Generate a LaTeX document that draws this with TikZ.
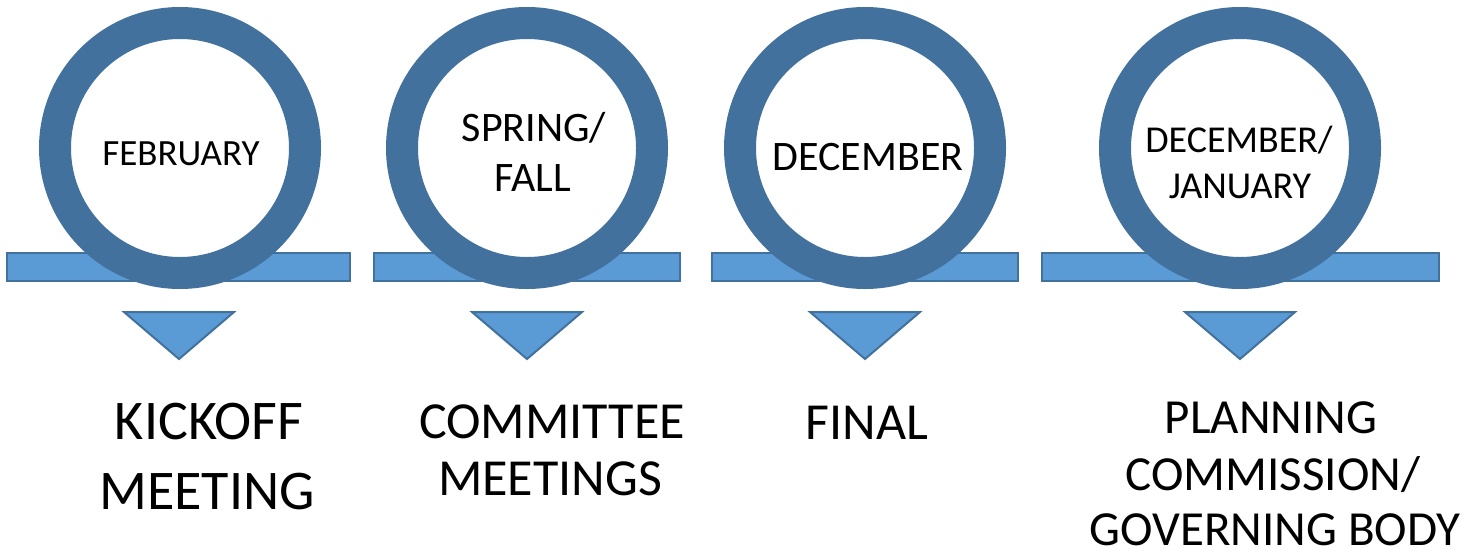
\documentclass[tikz,border=0pt]{standalone}
\usepackage{fontspec}
\setmainfont{Carlito}
\definecolor{ringblue}{HTML}{41719C}
\definecolor{barblue}{HTML}{5B9BD5}
\begin{document}
\begin{tikzpicture}[x=1pt,y=-1pt,
  bar/.style={draw=ringblue,fill=barblue,line width=2pt,rectangle,minimum height=28pt,inner sep=0pt},
  ring/.style={draw=ringblue,fill=white,line width=32pt,circle,minimum size=250pt,inner sep=0pt},
  marker/.style={draw=ringblue,fill=barblue,line width=2pt,line join=miter},
  txt/.style={anchor=base,inner sep=0pt,align=center,text=black}]
\useasboundingbox (0,0) rectangle (1471,557);

% timeline bars
\node[bar,minimum width=343pt] (b1) at (178.5,267) {};
\node[bar,minimum width=306pt] (b2) at (527,267) {};
\node[bar,minimum width=306pt] (b3) at (865,267) {};
\node[bar,minimum width=397pt] (b4) at (1240.5,267) {};

% rings
\node[ring] (r1) at (180,148) {};
\node[ring] (r2) at (527,148) {};
\node[ring] (r3) at (865,148) {};
\node[ring] (r4) at (1240,148) {};

% downward markers
\foreach \cx in {179,527,865,1240}
  \draw[marker] (\cx-55,312) -- (\cx+55,312) -- (\cx,359) -- cycle;

% dates inside the rings
\node[txt,font=\fontsize{37}{44}\selectfont] (d1) at (181,165) {FEBRUARY};
\node[txt,font=\fontsize{42}{51}\selectfont] (d2a) at (534,141) {SPRING/};
\node[txt,font=\fontsize{42}{51}\selectfont] (d2b) at (533,191) {FALL};
\node[txt,font=\fontsize{42}{51}\selectfont] (d3) at (868,170) {DECEMBER};
\node[txt,font=\fontsize{38}{47}\selectfont] (d4a) at (1239,152) {DECEMBER/};
\node[txt,font=\fontsize{38}{47}\selectfont] (d4b) at (1240,198) {JANUARY};

% milestone names
\node[txt,font=\fontsize{56}{70}\selectfont] (m1a) at (209,439) {KICKOFF};
\node[txt,font=\fontsize{56}{70}\selectfont] (m1b) at (207,509) {MEETING};
\node[txt,font=\fontsize{52}{57}\selectfont] (m2a) at (552,438) {COMMITTEE};
\node[txt,font=\fontsize{52}{57}\selectfont] (m2b) at (550,495) {MEETINGS};
\node[txt,font=\fontsize{52}{57}\selectfont] (m3) at (867,439) {FINAL};
\node[txt,font=\fontsize{49}{57}\selectfont] (m4a) at (1271,433) {PLANNING};
\node[txt,font=\fontsize{49}{57}\selectfont] (m4b) at (1273,490) {COMMISSION/};
\node[txt,font=\fontsize{49}{57}\selectfont] (m4c) at (1275,545) {GOVERNING BODY};
\end{tikzpicture}
\end{document}
